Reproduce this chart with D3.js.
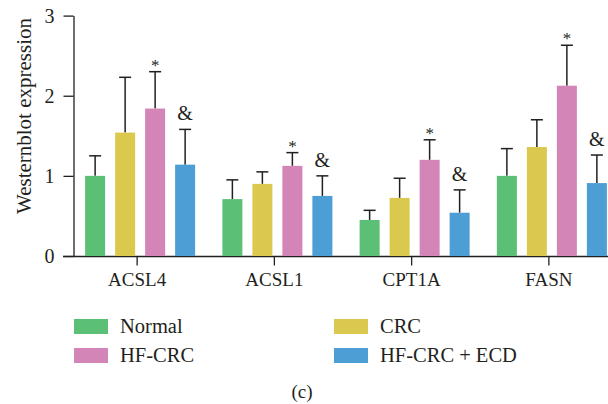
<!DOCTYPE html>
<html>
<head>
<meta charset="utf-8">
<script src="https://cdn.jsdelivr.net/npm/d3@7"></script>
<style>
  body { margin: 0; background: #fff; }
  text { font-family: "Liberation Serif", "DejaVu Serif", serif; fill: #231f20; }
</style>
</head>
<body>
<div id="chart"></div>
<script>
// values
const genes = ["ACSL4", "ACSL1", "CPT1A", "FASN"];
const groups = ["Normal", "CRC", "HF-CRC", "HF-CRC + ECD"];
const colors = ["#5bbf76", "#dbc94f", "#d385b7", "#4c9ed5"];

const means = [
	[1.00, 1.54, 1.84, 1.14],
	[0.71, 0.90, 1.125, 0.75],
	[0.45, 0.725, 1.20, 0.54],
	[1.00, 1.36, 2.125, 0.91]
];
const errTops = [
	[1.25, 2.23, 2.30, 1.58],
	[0.95, 1.05, 1.29, 1.00],
	[0.57, 0.97, 1.45, 0.825],
	[1.34, 1.70, 2.63, 1.26]
];
// significance marks per group (index 2 gets "*", index 3 gets "&")
const marks = ["", "", "*", "&"];
const yTicks = [0, 1, 2, 3];

const width = 608, height = 404;

const svg = d3.select("#chart")
	.append("svg")
	.attr("width", width)
	.attr("height", height);

const y = d3.scaleLinear().domain([0, 3]).range([256, 15.6]);

const x = d3.scaleBand().domain(genes).range([68.5, 617.5]);
// bars sit a little right of the tick
const xi = d3.scaleBand().domain(groups).range([-52, 58]).paddingInner(1/3).paddingOuter(0);

// y axis
const yAxis = svg.append("g")
	.attr("transform", "translate(73.5,0)")
	.call(d3.axisLeft(y).tickValues(yTicks).tickFormat(d3.format("d")).tickSize(10).tickPadding(9).tickSizeOuter(0));
yAxis.select(".domain").attr("stroke", "#231f20").attr("stroke-width", 1.3);
yAxis.selectAll(".tick line").attr("stroke", "#231f20").attr("stroke-width", 1.3);
yAxis.selectAll(".tick text").attr("font-size", 20).attr("font-family", null);

// x axis
const xAxis = svg.append("g")
	.attr("transform", "translate(0,256.5)")
	.call(d3.axisBottom(x).tickSize(9).tickPadding(7).tickSizeOuter(0));
xAxis.select(".domain").attr("d", "M63,0H608").attr("stroke", "#231f20").attr("stroke-width", 1.3);
xAxis.selectAll(".tick line").attr("stroke", "#231f20").attr("stroke-width", 1.3);
xAxis.selectAll(".tick text").attr("font-size", 19).attr("font-family", null);

svg.append("text")
	.attr("transform", "translate(31,116) rotate(-90)")
	.attr("text-anchor", "middle")
	.attr("font-size", 21)
	.text("Westernblot expression");

const g = svg.selectAll(".gene")
	.data(genes)
	.enter()
	.append("g")
	.attr("class", "gene")
	.attr("transform", d => "translate(" + (x(d) + x.bandwidth() / 2) + ",0)");

g.each(function(gene, gi){
	const sel = d3.select(this);
	groups.forEach((grp, k) => {
		const x0 = xi(grp), bw = xi.bandwidth(), cx = x0 + bw / 2;
		const v = means[gi][k], e = errTops[gi][k];

		sel.append("line")
			.attr("x1", cx).attr("x2", cx)
			.attr("y1", y(v)).attr("y2", y(e))
			.attr("stroke", "#231f20").attr("stroke-width", 1.5);
		sel.append("line")
			.attr("x1", cx - 6).attr("x2", cx + 6)
			.attr("y1", y(e)).attr("y2", y(e))
			.attr("stroke", "#231f20").attr("stroke-width", 1.5);

		sel.append("rect")
			.attr("x", x0)
			.attr("y", y(v))
			.attr("width", bw)
			.attr("height", y(0) - y(v))
			.attr("fill", colors[k]);

		if (marks[k] === "*") {
			sel.append("text")
				.attr("x", cx)
				.attr("y", y(e) - 1)
				.attr("text-anchor", "middle")
				.attr("font-size", 17)
				.text("*");
		} else if (marks[k] === "&") {
			sel.append("text")
				.attr("x", cx)
				.attr("y", y(e) - 9)
				.attr("text-anchor", "middle")
				.attr("font-size", 20)
				.text("&");
		}
	});
});

// legend
const legendPos = [[74, 319], [334, 319], [74, 348], [334, 348]];
const legendOrder = [0, 1, 2, 3];
const leg = svg.selectAll(".leg")
	.data(legendOrder)
	.enter()
	.append("g")
	.attr("class", "leg")
	.attr("transform", (d, i) => "translate(" + legendPos[i][0] + "," + legendPos[i][1] + ")");

leg.append("rect")
	.attr("width", 34)
	.attr("height", 15)
	.attr("fill", d => colors[d]);

leg.append("text")
	.attr("x", 46)
	.attr("y", 14)
	.attr("font-size", 20.5)
	.text(d => groups[d]);

svg.append("text")
	.attr("x", 302)
	.attr("y", 398)
	.attr("text-anchor", "middle")
	.attr("font-size", 19)
	.text("(c)");
</script>
</body>
</html>
